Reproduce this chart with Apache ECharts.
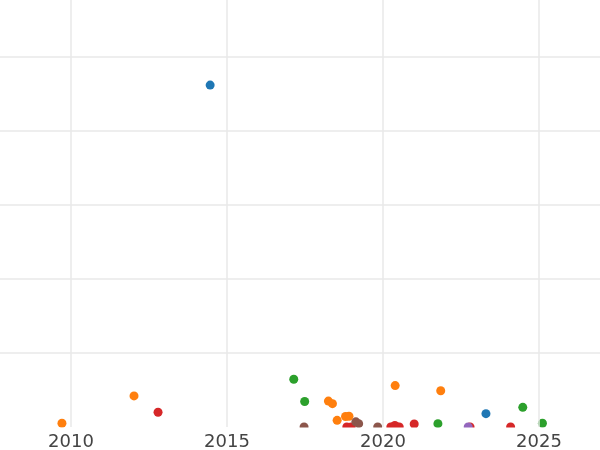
<!DOCTYPE html>
<html>
<head>
<meta charset="utf-8">
<script src="https://cdn.jsdelivr.net/npm/echarts@6/dist/echarts.min.js"></script>
<style>html,body{margin:0;padding:0;background:#fff;}#c{width:600px;height:450px;}</style>
</head>
<body>
<div id="c"></div>
<script>
// [year, value]
const seriesBlue   = [[2014.46, 462], [2023.30, 18]];
const seriesOrange = [[2009.71, 5], [2012.02, 42], [2018.25, 35], [2018.38, 31.5], [2020.39, 56], [2021.85, 49], [2018.53, 9], [2018.80, 14.2], [2018.91, 14.5]];
const seriesGreen  = [[2017.14, 64.5], [2017.49, 34.5], [2021.76, 4.5], [2024.48, 26.6], [2025.11, 5]];
const seriesRed    = [[2012.79, 20], [2018.84, 0], [2018.98, 0], [2020.25, 0], [2020.38, 2], [2020.52, 0], [2021.0, 4], [2022.79, 0], [2024.09, 0]];
const seriesPurple = [[2022.73, 0]];
const seriesBrown  = [[2017.47, 0], [2019.13, 7], [2019.22, 4.5], [2019.83, 0]];
const seriesNames  = ['A', 'B', 'C', 'D', 'E', 'F'];
const seriesData   = [seriesBlue, seriesOrange, seriesGreen, seriesRed, seriesPurple, seriesBrown];
const colors       = ['#1f77b4', '#ff7f0e', '#2ca02c', '#d62728', '#9467bd', '#8c564b'];

const chart = echarts.init(document.getElementById('c'), null, {renderer: 'canvas'});
chart.setOption({
  animation: false,
  backgroundColor: '#fff',
  grid: {left: -85, right: -95, top: -17, bottom: 23, containLabel: false, outerBoundsMode: 'none'},
  xAxis: {
    type: 'value', min: 2005, max: 2030, interval: 5, z: 200,
    axisLine: {show: false}, axisTick: {show: false},
    axisLabel: {fontSize: 18, color: '#444', fontFamily: 'DejaVu Sans', margin: 6, formatter: v => String(v)},
    splitLine: {show: true, lineStyle: {color: '#e8e8e8', width: 1.5}}
  },
  yAxis: {
    type: 'value', min: 0, max: 600, interval: 100,
    axisLine: {show: false}, axisTick: {show: false}, axisLabel: {show: false},
    splitLine: {show: true, showMinLine: false, lineStyle: {color: '#e8e8e8', width: 1.5}}
  },
  graphic: [{
    type: 'rect', z: 100, silent: true,
    shape: {x: 0, y: 427.5, width: 600, height: 30},
    style: {fill: '#fff'}
  }],
  series: seriesData.map((d, i) => ({
    name: seriesNames[i], type: 'scatter', data: d, symbolSize: 9,
    itemStyle: {color: colors[i], opacity: 1}, clip: false
  }))
});
</script>
</body>
</html>
